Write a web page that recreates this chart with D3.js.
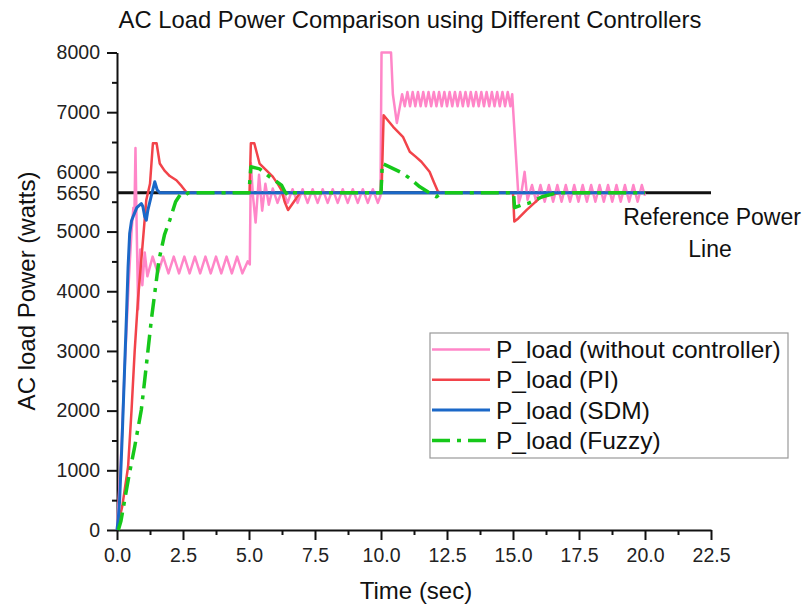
<!DOCTYPE html>
<html>
<head>
<meta charset="utf-8">
<script src="https://cdn.jsdelivr.net/npm/d3@7/dist/d3.min.js"></script>
<style>
  body { margin: 0; background: #fff; }
  svg { font-family: "Liberation Sans", Arial, sans-serif; }
  .axis path, .axis line { stroke: #111; stroke-width: 2; }
  .axis text { font-size: 19.5px; fill: #222; }
</style>
</head>
<body>
<div id="chart"></div>
<script>
// values: [time (s), power (W)]
var pinkPts = [[0,0],[0.15,1200],[0.3,2800],[0.45,4200],[0.55,5000],[0.62,5400],[0.66,5300],[0.7,6400],[0.74,5200],[0.8,3700],
  [0.88,4700],[0.96,4100],[1.05,4650],[1.15,4250],[1.35,4580],[1.55,4300],[1.75,4580],[1.95,4300],[2.15,4580],[2.35,4300],
  [2.55,4580],[2.75,4300],[2.95,4580],[3.15,4300],[3.35,4580],[3.55,4300],[3.75,4580],[3.95,4300],[4.15,4580],[4.35,4300],
  [4.55,4580],[4.75,4300],[4.95,4500],[5.03,4450],[5.07,6150],[5.15,5600],[5.25,5150],[5.38,5950],[5.5,5350],[5.62,5800],
  [5.75,5450],[5.9,5720],[6.08,5480],[6.27,5710],[6.46,5480],[6.65,5710],[6.84,5480],[7.03,5710],[7.22,5480],[7.41,5710],
  [7.6,5480],[7.79,5710],[7.98,5480],[8.17,5710],[8.36,5480],[8.55,5710],[8.74,5480],[8.93,5710],[9.12,5480],[9.31,5710],
  [9.5,5480],[9.69,5710],[9.88,5480],[9.98,5600],[10.02,8000],[10.38,8000],[10.45,7300],[10.6,6820],[10.8,7300],
  [10.9,7100],[11.0,7340],[11.1,7100],[11.2,7340],[11.3,7100],[11.4,7340],[11.5,7100],[11.6,7340],[11.7,7100],[11.8,7340],
  [11.9,7100],[12.0,7340],[12.1,7100],[12.2,7340],[12.3,7100],[12.4,7340],[12.5,7100],[12.6,7340],[12.7,7100],[12.8,7340],
  [12.9,7100],[13.0,7340],[13.1,7100],[13.2,7340],[13.3,7100],[13.4,7340],[13.5,7100],[13.6,7340],[13.7,7100],[13.8,7340],
  [13.9,7100],[14.0,7340],[14.1,7100],[14.2,7340],[14.3,7100],[14.4,7340],[14.5,7100],[14.6,7340],[14.7,7100],[14.8,7340],
  [14.9,7100],[14.97,7300],[15.22,5480],[15.3,5600],[15.44,6000],[15.55,5530],[15.72,5780],[15.88,5500],[16.04,5780],
  [16.2,5500],[16.36,5780],[16.52,5500],[16.68,5780],[16.84,5500],[17.0,5780],[17.16,5500],[17.32,5780],[17.48,5500],
  [17.64,5780],[17.8,5500],[17.96,5780],[18.12,5500],[18.28,5780],[18.44,5500],[18.6,5780],[18.76,5500],[18.92,5780],
  [19.08,5500],[19.24,5780],[19.4,5500],[19.56,5780],[19.72,5500],[19.88,5780],[20.0,5600]];

var piPts = [[0,0],[0.2,400],[0.42,1060],[0.55,2000],[0.67,3000],[0.8,3900],[0.92,4520],[1.02,5050],[1.11,5530],
  [1.25,5800],[1.36,6480],[1.5,6480],[1.62,6140],[1.8,6020],[2.0,5930],[2.25,5860],[2.45,5760],[2.63,5660],[2.8,5650],
  [5.02,5650],[5.07,6480],[5.2,6480],[5.4,6140],[5.65,6030],[5.9,5920],[6.1,5790],[6.23,5695],[6.35,5500],[6.48,5360],
  [6.7,5500],[6.92,5640],[7.1,5650],[10.02,5650],[10.1,6950],[10.46,6755],[10.83,6588],[11.09,6337],[11.3,6260],
  [11.53,6170],[11.84,6002],[12.0,5830],[12.16,5667],[12.3,5650],[15.0,5650],[15.05,5170],[15.2,5220],[15.51,5360],
  [16.01,5560],[16.4,5620],[16.8,5650],[20,5650]];

var sdmPts = [[0,0],[0.05,200],[0.1,500],[0.2,1600],[0.29,2735],[0.36,3600],[0.42,4410],[0.48,4970],[0.55,5180],
  [0.61,5250],[0.75,5400],[0.92,5470],[0.98,5420],[1.05,5250],[1.11,5190],[1.17,5360],[1.3,5600],[1.43,5834],
  [1.52,5700],[1.62,5650],[20,5650]];

var fuzzyPts = [[0.05,0],[0.15,150],[0.29,500],[0.45,900],[0.67,1395],[0.92,2010],[1.05,2512],[1.3,3518],[1.59,4523],
  [1.8,4950],[2.0,5193],[2.22,5500],[2.4,5620],[2.56,5600],[2.7,5650],[5.0,5650],[5.07,6085],[5.4,6050],[5.78,5918],
  [6.23,5779],[6.36,5667],[6.5,5600],[6.65,5650],[10.0,5650],[10.05,6142],[10.58,6030],[10.83,5975],[11.09,5891],
  [11.47,5750],[11.8,5660],[12.1,5583],[12.3,5650],[15.02,5650],[15.06,5400],[15.3,5440],[15.6,5477],[16.1,5583],
  [16.7,5650],[20,5650]];

var refPower = 5650;
var seriesNames = ["P_load (without controller)", "P_load (PI)", "P_load (SDM)", "P_load (Fuzzy)"];
var seriesColors = ["#ff86c8", "#f2434a", "#1b68c8", "#16c81a"];
var xTicks = [0, 2.5, 5, 7.5, 10, 12.5, 15, 17.5, 20, 22.5];
var yTicks = [0, 1000, 2000, 3000, 4000, 5000, 6000, 7000, 8000];

var svg = d3.select("#chart").append("svg")
    .attr("width", 803)
    .attr("height", 607);

var x = d3.scaleLinear().domain([0, 22.5]).range([117, 711]);
var y = d3.scaleLinear().domain([0, 8000]).range([530, 52.5]);

// title
svg.append("text")
    .attr("x", 410).attr("y", 28)
    .attr("text-anchor", "middle")
    .style("font-size", "23.8px").style("fill", "#111")
    .text("AC Load Power Comparison using Different Controllers");

// minor ticks
svg.append("g").attr("class", "axis")
    .attr("transform", "translate(117,0)")
    .call(d3.axisLeft(y).tickValues(d3.range(500, 8000, 1000)).tickSize(5).tickFormat(""))
    .select(".domain").remove();
svg.append("g").attr("class", "axis")
    .attr("transform", "translate(0,530)")
    .call(d3.axisBottom(x).tickValues(d3.range(1.25, 22.5, 2.5)).tickSize(5).tickFormat(""))
    .select(".domain").remove();

// major axes
svg.append("g").attr("class", "axis")
    .attr("transform", "translate(117,0)")
    .call(d3.axisLeft(y).tickValues(yTicks).tickSize(10).tickSizeOuter(0).tickPadding(7).tickFormat(d3.format("d")));
svg.append("g").attr("class", "axis")
    .attr("transform", "translate(0,530)")
    .call(d3.axisBottom(x).tickValues(xTicks).tickSize(10).tickSizeOuter(0).tickPadding(8).tickFormat(d3.format(".1f")));

// 5650 label
svg.append("g").attr("class", "axis")
    .attr("transform", "translate(117,0)")
    .call(d3.axisLeft(y).tickValues([refPower]).tickSize(0).tickPadding(17).tickFormat(d3.format("d")))
    .select(".domain").remove();

// axis titles
svg.append("text")
    .attr("x", 416).attr("y", 599)
    .attr("text-anchor", "middle")
    .style("font-size", "24px").style("fill", "#111")
    .text("Time (sec)");
svg.append("text")
    .attr("transform", "translate(35,291) rotate(-90)")
    .attr("text-anchor", "middle")
    .style("font-size", "24px").style("fill", "#111")
    .text("AC load Power (watts)");

var line = d3.line()
    .x(function(d) { return x(d[0]); })
    .y(function(d) { return y(d[1]); });

// reference power line
svg.append("line")
    .attr("x1", x(0)).attr("x2", x(22.5))
    .attr("y1", y(refPower)).attr("y2", y(refPower))
    .attr("stroke", "#111").attr("stroke-width", 3);

var allSeries = [pinkPts, piPts, sdmPts, fuzzyPts];
var widths = [2.5, 2.5, 3, 3.5];
var dashes = [null, null, null, "18,7,4,7"];

allSeries.forEach(function(pts, i) {
    svg.append("path")
        .datum(pts)
        .attr("d", line)
        .attr("fill", "none")
        .attr("stroke", seriesColors[i])
        .attr("stroke-width", widths[i])
        .attr("stroke-linejoin", "round")
        .attr("stroke-dasharray", dashes[i]);
});

svg.append("text")
    .attr("x", 712).attr("y", 225)
    .attr("text-anchor", "middle")
    .style("font-size", "23px").style("fill", "#111")
    .text("Reference Power");
svg.append("text")
    .attr("x", 710).attr("y", 257)
    .attr("text-anchor", "middle")
    .style("font-size", "23px").style("fill", "#111")
    .text("Line");

// legend
var legend = svg.append("g").attr("transform", "translate(430,333)");
legend.append("rect")
    .attr("width", 358).attr("height", 125)
    .attr("fill", "#fff")
    .attr("stroke", "#999").attr("stroke-width", 1.2);

seriesNames.forEach(function(name, i) {
    var ly = 16.5 + i * 30.3;
    legend.append("line")
        .attr("x1", 2).attr("x2", 60)
        .attr("y1", ly).attr("y2", ly)
        .attr("stroke", seriesColors[i])
        .attr("stroke-width", widths[i])
        .attr("stroke-dasharray", dashes[i]);
    legend.append("text")
        .attr("x", 66).attr("y", ly + 8.5)
        .style("font-size", "24.5px").style("fill", "#111")
        .text(name);
});
</script>
</body>
</html>
